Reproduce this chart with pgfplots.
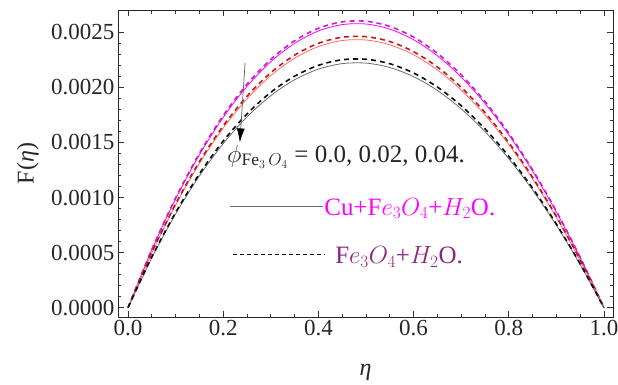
\documentclass[border=0pt]{standalone}
\usepackage{fontspec}
\setmainfont{Liberation Serif}
\usepackage{pgfplots}
\pgfplotsset{compat=1.18}
\usetikzlibrary{arrows.meta}
\definecolor{magS}{rgb}{1,0,1}
\definecolor{magD}{rgb}{0.78,0.12,0.78}
\definecolor{redS}{rgb}{1,0.42,0.42}
\definecolor{redD}{rgb}{0.75,0.1,0.1}
\definecolor{blkS}{rgb}{0.42,0.42,0.42}
\definecolor{blkD}{rgb}{0.05,0.05,0.05}
\definecolor{purp}{rgb}{0.55,0.15,0.5}
\begin{document}
\begin{tikzpicture}
\begin{axis}[
  scale only axis, width=495pt, height=307pt,
  xmin=-0.021, xmax=1.019, ymin=-0.844, ymax=27.02,
  xtick={0,0.2,0.4,0.6,0.8,1.0},
  xticklabels={0.0,0.2,0.4,0.6,0.8,1.0},
  minor x tick num=3,
  ytick={0,5,10,15,20,25},
  yticklabels={0.0000,0.0005,0.0010,0.0015,0.0020,0.0025},
  minor y tick num=4,
  tick align=inside,
  major tick length=6pt, minor tick length=3.5pt,
  tick style={black!80, line width=0.6pt},
  axis line style={black!85, line width=0.8pt},
  ticklabel style={font=\fontsize{23}{26}\selectfont, text=black!85},
  xlabel={\textit{η}},
  ylabel={F(\textit{η})},
  label style={font=\fontsize{24}{28}\selectfont, text=black!85},
  xlabel style={at={(axis description cs:0.5,-0.179)}, anchor=center},
  ylabel style={at={(axis description cs:-0.182,0.5)}, anchor=center},
  clip=false,
]
% magenta solid
\addplot[magS, line width=0.8pt, smooth] coordinates {
(0,0) (0.05,5.245) (0.10,9.862) (0.15,13.869) (0.20,17.271) (0.25,20.085)
(0.30,22.323) (0.35,23.994) (0.40,25.117) (0.45,25.696) (0.50,25.75)
(0.55,25.289) (0.60,24.323) (0.65,22.871) (0.70,20.937) (0.75,18.54)
(0.80,15.689) (0.85,12.396) (0.90,8.678) (0.95,4.540) (1.0,0)};
% magenta dashed
\addplot[magD, line width=1.6pt, dash pattern=on 5pt off 4pt, smooth] coordinates {
(0,0) (0.05,5.296) (0.10,9.958) (0.15,14.004) (0.20,17.438) (0.25,20.28)
(0.30,22.539) (0.35,24.227) (0.40,25.360) (0.45,25.945) (0.50,26.0)
(0.55,25.535) (0.60,24.560) (0.65,23.093) (0.70,21.141) (0.75,18.72)
(0.80,15.842) (0.85,12.516) (0.90,8.762) (0.95,4.584) (1.0,0)};
% red solid
\addplot[redS, line width=0.8pt, smooth] coordinates {
(0,0) (0.05,4.950) (0.10,9.307) (0.15,13.088) (0.20,16.298) (0.25,18.954)
(0.30,21.066) (0.35,22.643) (0.40,23.702) (0.45,24.249) (0.50,24.3)
(0.55,23.865) (0.60,22.954) (0.65,21.583) (0.70,19.758) (0.75,17.496)
(0.80,14.806) (0.85,11.698) (0.90,8.189) (0.95,4.284) (1.0,0)};
% red dashed
\addplot[redD, line width=1.6pt, dash pattern=on 5pt off 4pt, smooth] coordinates {
(0,0) (0.05,5.011) (0.10,9.422) (0.15,13.250) (0.20,16.499) (0.25,19.188)
(0.30,21.326) (0.35,22.922) (0.40,23.995) (0.45,24.548) (0.50,24.6)
(0.55,24.160) (0.60,23.237) (0.65,21.850) (0.70,20.002) (0.75,17.712)
(0.80,14.989) (0.85,11.842) (0.90,8.290) (0.95,4.337) (1.0,0)};
% black solid
\addplot[blkS, line width=0.8pt, smooth] coordinates {
(0,0) (0.05,4.522) (0.10,8.503) (0.15,11.957) (0.20,14.890) (0.25,17.316)
(0.30,19.245) (0.35,20.686) (0.40,21.654) (0.45,22.153) (0.50,22.2)
(0.55,21.803) (0.60,20.970) (0.65,19.718) (0.70,18.051) (0.75,15.984)
(0.80,13.526) (0.85,10.687) (0.90,7.481) (0.95,3.914) (1.0,0)};
% black dashed
\addplot[blkD, line width=1.6pt, dash pattern=on 5pt off 4pt, smooth] coordinates {
(0,0) (0.05,4.593) (0.10,8.637) (0.15,12.145) (0.20,15.124) (0.25,17.589)
(0.30,19.549) (0.35,21.012) (0.40,21.995) (0.45,22.503) (0.50,22.55)
(0.55,22.146) (0.60,21.301) (0.65,20.029) (0.70,18.335) (0.75,16.236)
(0.80,13.740) (0.85,10.856) (0.90,7.599) (0.95,3.976) (1.0,0)};
% annotations
\draw[gray!70!black, line width=0.7pt, -{Latex[length=14pt,width=8pt,color=black]}]
  (axis cs:0.246,22.2) -- (axis cs:0.235,15.0);
\node[anchor=center, font=\fontsize{25}{28}\selectfont, text=black!85]
  at (axis cs:0.458,13.7) {$\phi_{\mathrm{Fe}_3\,O_4}$ = 0.0, 0.02, 0.04.};
\draw[blkS, line width=0.7pt] (axis cs:0.214,9.17) -- (axis cs:0.410,9.17);
\node[anchor=west, inner sep=1pt, font=\fontsize{25}{28}\selectfont, text=magS]
  at (axis cs:0.410,9.0) {Cu+F$e_3O_4$+$H_2$O.};
\draw[blkD, line width=0.9pt, dash pattern=on 4pt off 3pt] (axis cs:0.220,4.81) -- (axis cs:0.414,4.81);
\node[anchor=west, inner sep=1pt, font=\fontsize{25}{28}\selectfont, text=purp]
  at (axis cs:0.433,4.6) {F$e_3O_4$+$H_2$O.};
\end{axis}
\pgfresetboundingbox
\useasboundingbox (-118pt,-67pt) rectangle (500pt,317pt);
\end{tikzpicture}
\end{document}
